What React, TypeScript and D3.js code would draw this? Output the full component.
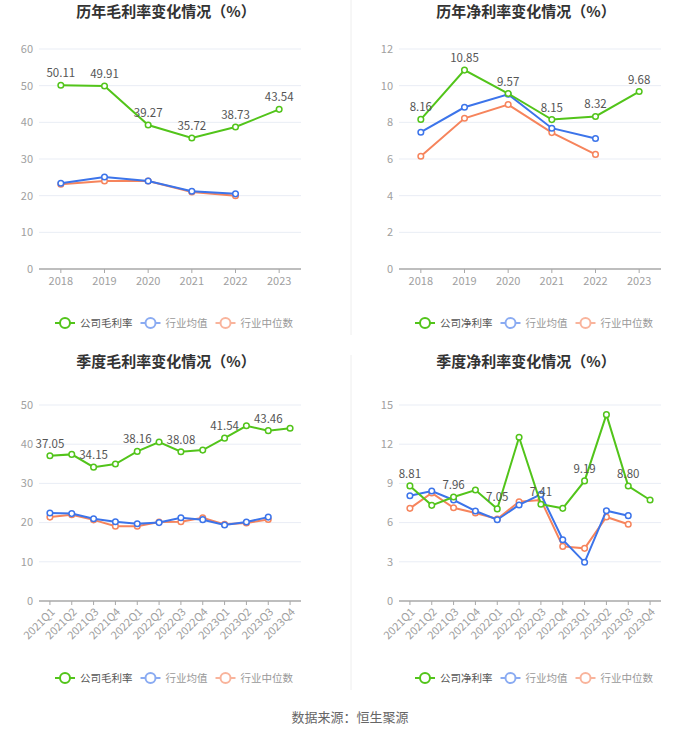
import * as d3 from 'd3'

const FONT = '"Noto Sans CJK SC", "Noto Sans", sans-serif'

const GREEN = '#52c41a'
const BLUE = '#3c74ea'
const ORANGE = '#f6845c'

const years = ['2018', '2019', '2020', '2021', '2022', '2023']
const quarters = [
  '2021Q1', '2021Q2', '2021Q3', '2021Q4',
  '2022Q1', '2022Q2', '2022Q3', '2022Q4',
  '2023Q1', '2023Q2', '2023Q3', '2023Q4',
]

// 历年毛利率
const yearGross = [50.11, 49.91, 39.27, 35.72, 38.73, 43.54]
const yearGrossAvg = [23.4, 25.1, 24.0, 21.2, 20.5]
const yearGrossMed = [23.1, 24.0, 24.0, 21.0, 20.0]

// 历年净利率
const yearNet = [8.16, 10.85, 9.57, 8.15, 8.32, 9.68]
const yearNetAvg = [7.46, 8.82, 9.53, 7.68, 7.12]
const yearNetMed = [6.15, 8.22, 8.97, 7.44, 6.25]

// 季度毛利率
const qGross = [37.05, 37.4, 34.15, 34.95, 38.16, 40.56, 38.08, 38.5, 41.54, 44.7, 43.46, 44.05]
const qGrossAvg = [22.45, 22.3, 21.0, 20.2, 19.7, 20.0, 21.25, 20.75, 19.4, 20.15, 21.4]
const qGrossMed = [21.4, 22.0, 20.7, 19.1, 19.05, 20.15, 20.2, 21.25, 19.55, 19.9, 20.8]

// 季度净利率
const qNet = [8.81, 7.32, 7.96, 8.49, 7.05, 12.53, 7.41, 7.09, 9.19, 14.26, 8.8, 7.73]
const qNetAvg = [8.06, 8.42, 7.73, 6.89, 6.22, 7.35, 8.16, 4.69, 2.96, 6.91, 6.53]
const qNetMed = [7.09, 8.27, 7.14, 6.73, 6.28, 7.6, 7.73, 4.18, 4.03, 6.43, 5.87]

const annualLabelIdx = [0, 1, 2, 3, 4, 5]
const quarterLabelIdx = [0, 2, 4, 6, 8, 10]

type Series = { name: string; color: string; legendColor: string; values: number[] }

function Panel({ ox, oy, title, titleX, cats, series, yMax, yStep, labelIdx, rotate, legendX }: {
  ox: number
  oy: number
  title: string
  titleX: number
  cats: string[]
  series: Series[]
  yMax: number
  yStep: number
  labelIdx: number[]
  rotate: boolean
  legendX: number
}) {
  const left = 39
  const right = 301
  const top = rotate ? 55 : 49
  const bottom = rotate ? 251 : 269

  const x = d3.scaleBand<string>().domain(cats).range([left, right])
  const cx = (c: string) => (x(c) ?? 0) + x.bandwidth() / 2
  const y = d3.scaleLinear().domain([0, yMax]).range([bottom, top])
  const ticks = d3.range(0, yMax + yStep / 2, yStep)

  const line = d3.line<number>()
    .x((_, i) => cx(cats[i]))
    .y(d => y(d))

  const legendY = rotate ? 328 : 323
  const fs = 10.5
  const legendWidths = series.map(s => 25 + s.name.length * fs + 8)
  let lx = legendX

  return (
    <g transform={`translate(${ox},${oy})`}>
      <text x={titleX} y={17} textAnchor="middle" fontSize={15} fontWeight="bold" fill="#333">{title}</text>

      {ticks.map(t => (
        <g key={t}>
          {t > 0 && <line x1={left} x2={right} y1={y(t)} y2={y(t)} stroke="#e9edf5" strokeWidth={1} />}
          <text x={left - 6} y={y(t)} dy="0.35em" textAnchor="end" fontSize={11} fill="#a0a0a0">{t}</text>
        </g>
      ))}
      <line x1={left} x2={right} y1={bottom} y2={bottom} stroke="#a8a8a8" strokeWidth={1.5} />
      {cats.map(c => (
        <line key={c} x1={cx(c)} x2={cx(c)} y1={bottom} y2={bottom + 4} stroke="#a8a8a8" strokeWidth={1} />
      ))}
      {cats.map(c => rotate ? (
        <text key={c} transform={`translate(${cx(c) + 3},${bottom + 9}) rotate(-45)`} textAnchor="end"
          dy="0.35em" fontSize={11} fill="#a0a0a0">{c}</text>
      ) : (
        <text key={c} x={cx(c)} y={bottom + 12} dy="0.35em" textAnchor="middle" fontSize={11} fill="#a0a0a0">{c}</text>
      ))}

      {[...series].reverse().map(s => (
        <g key={s.name}>
          <path d={line(s.values) ?? ''} fill="none" stroke={s.color} strokeWidth={2} />
          {s.values.map((v, i) => (
            <circle key={i} cx={cx(cats[i])} cy={y(v)} r={2.8} fill="#fff" stroke={s.color} strokeWidth={1.5} />
          ))}
        </g>
      ))}

      {labelIdx.map(i => (
        <text key={i} x={cx(cats[i])} y={y(series[0].values[i]) - 8} textAnchor="middle" fontSize={11.5} fill="#555">
          {series[0].values[i].toFixed(2)}
        </text>
      ))}

      {series.map((s, k) => {
        const x0 = lx
        lx += legendWidths[k]
        return (
          <g key={s.name} transform={`translate(${x0},${legendY})`}>
            <line x1={0} x2={20} y1={0} y2={0} stroke={s.legendColor} strokeWidth={2} />
            <circle cx={10} cy={0} r={5} fill="#fff" stroke={s.legendColor} strokeWidth={2} />
            <text x={25} y={0} dy="0.35em" fontSize={fs} fill={k === 0 ? '#555' : '#999'}>{s.name}</text>
          </g>
        )
      })}
    </g>
  )
}

function mk(first: string, a: number[], b: number[], c: number[]): Series[] {
  return [
    { name: first, color: GREEN, legendColor: GREEN, values: a },
    { name: '行业均值', color: BLUE, legendColor: '#8aabf2', values: b },
    { name: '行业中位数', color: ORANGE, legendColor: '#f9b49c', values: c },
  ]
}

export default function App() {
  return (
    <svg width={700} height={733} style={{ position: 'absolute', left: 0, top: 0, fontFamily: FONT }}>
      <rect width={700} height={733} fill="#fff" />
      <line x1={351} x2={351} y1={0} y2={335} stroke="#eeeeee" />
      <line x1={351} x2={351} y1={355} y2={690} stroke="#eeeeee" />

      <Panel ox={0} oy={0} title="历年毛利率变化情况（%）" titleX={166} cats={years}
        series={mk('公司毛利率', yearGross, yearGrossAvg, yearGrossMed)}
        yMax={60} yStep={10} labelIdx={annualLabelIdx} rotate={false} legendX={55} />
      <Panel ox={360} oy={0} title="历年净利率变化情况（%）" titleX={166} cats={years}
        series={mk('公司净利率', yearNet, yearNetAvg, yearNetMed)}
        yMax={12} yStep={2} labelIdx={annualLabelIdx} rotate={false} legendX={55} />
      <Panel ox={0} oy={350} title="季度毛利率变化情况（%）" titleX={166} cats={quarters}
        series={mk('公司毛利率', qGross, qGrossAvg, qGrossMed)}
        yMax={50} yStep={10} labelIdx={quarterLabelIdx} rotate={true} legendX={55} />
      <Panel ox={360} oy={350} title="季度净利率变化情况（%）" titleX={166} cats={quarters}
        series={mk('公司净利率', qNet, qNetAvg, qNetMed)}
        yMax={15} yStep={3} labelIdx={quarterLabelIdx} rotate={true} legendX={55} />

      <text x={350} y={717} dy="0.35em" textAnchor="middle" fontSize={13} fill="#666">数据来源：恒生聚源</text>
    </svg>
  )
}
